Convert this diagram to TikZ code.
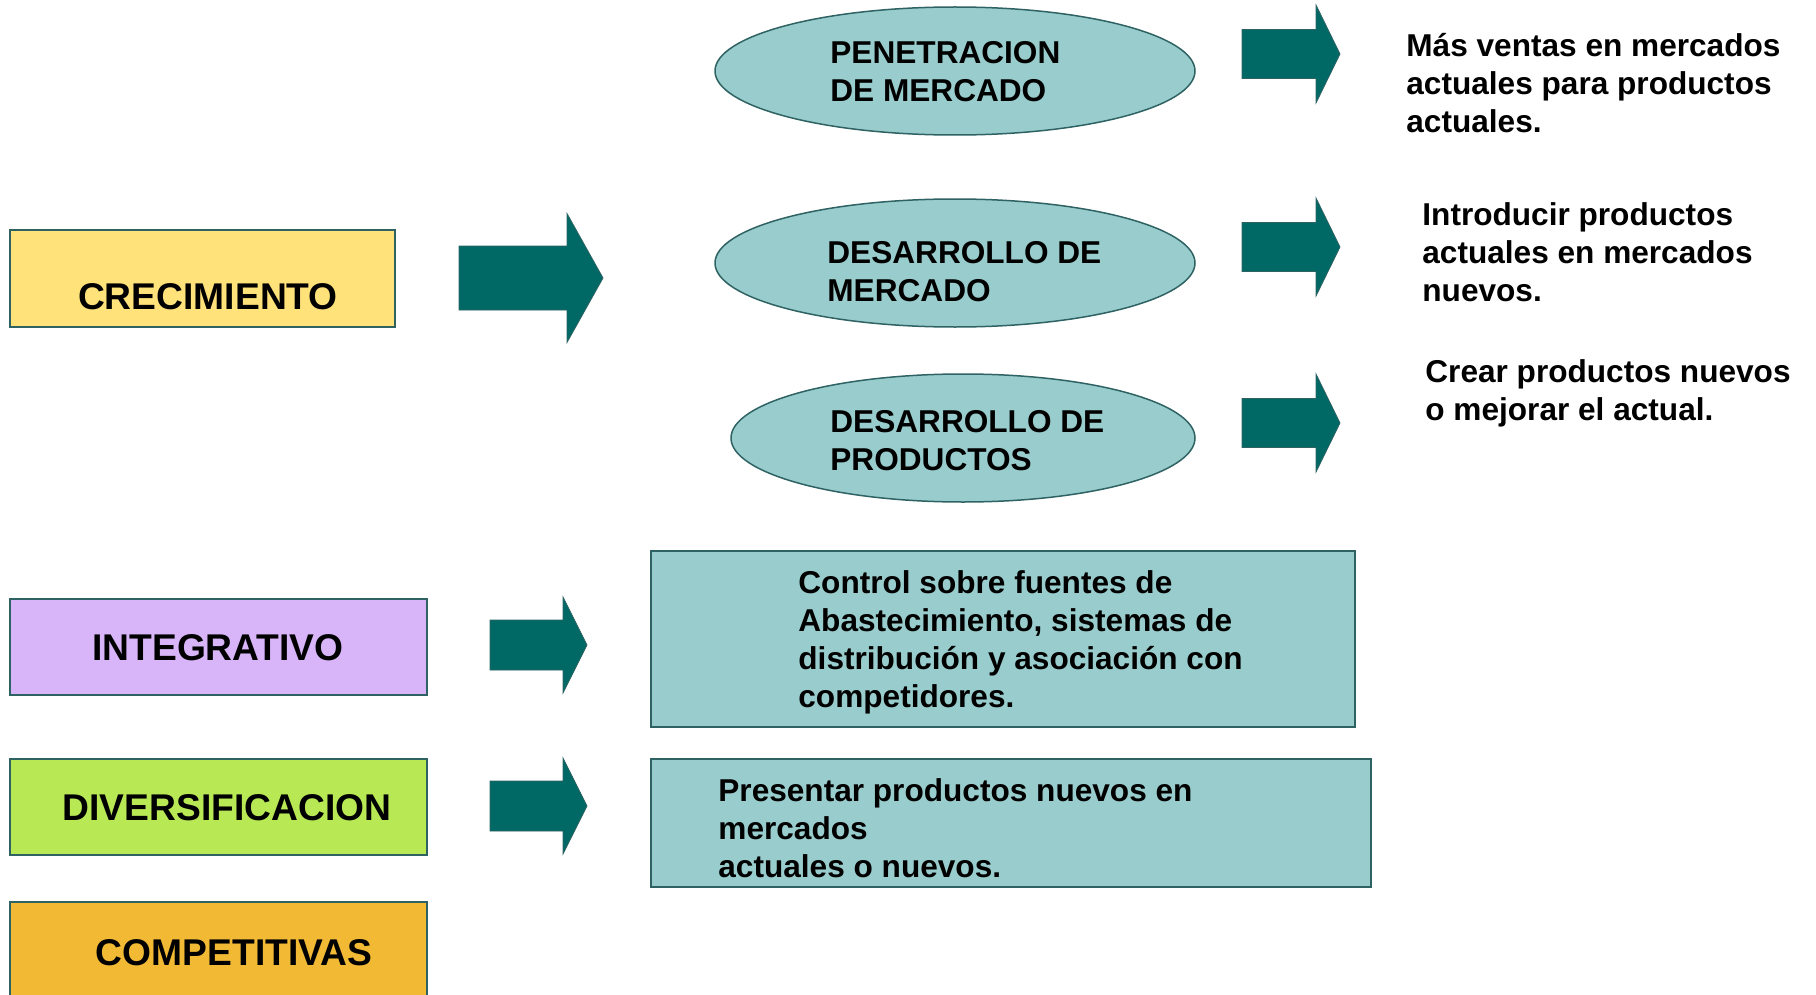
\documentclass[tikz,border=0pt]{standalone}
\usepackage{fontspec}
\setmainfont{Liberation Sans}
\usepackage{tikz}
\usetikzlibrary{shapes.geometric}

\definecolor{tealarrow}{HTML}{006865}
\definecolor{tealedge}{HTML}{2F6363}
\definecolor{tealfill}{HTML}{99CCCC}
\definecolor{crecfill}{HTML}{FFE27A}
\definecolor{integfill}{HTML}{D8B4F8}
\definecolor{diverfill}{HTML}{B9E855}
\definecolor{compfill}{HTML}{F2B935}

\tikzset{
  caja/.style={draw=tealedge, line width=1pt, rectangle, inner sep=0pt},
  ovalo/.style={draw=tealedge, fill=tealfill, line width=0.75pt, ellipse, inner sep=0pt,
    minimum width=240pt, minimum height=64pt},
  rotulo/.style={font=\bfseries\fontsize{18.6}{22}\selectfont, inner sep=0pt},
  texto/.style={font=\bfseries\fontsize{15.8}{19}\selectfont, align=left, inner sep=0pt, anchor=west},
  flechafill/.style={fill=tealarrow, draw=tealedge, line width=0.4pt}
}
% block arrow: tail x, head base x, tip x, centre y, body half, head half
\newcommand{\flecha}[6]{%
  \path[flechafill] (#1,#4-#5) -- (#2,#4-#5) -- (#2,#4-#6) -- (#3,#4)
    -- (#2,#4+#6) -- (#2,#4+#5) -- (#1,#4+#5) -- cycle;}

\begin{document}
\begin{tikzpicture}[x=0.5pt,y=-0.5pt]
  \useasboundingbox (0,0) rectangle (1816,995);

  % left boxes
  \node[caja, fill=crecfill, minimum width=192.5pt, minimum height=48.5pt] (crec) at (202.5,278.5) {};
  \node[rotulo] (crectxt) at (208,297) {CRECIMIENTO};
  \node[caja, fill=integfill, minimum width=208.5pt, minimum height=48pt] (integ) at (218.5,647) {};
  \node[rotulo] (integtxt) at (218,648) {INTEGRATIVO};
  \node[caja, fill=diverfill, minimum width=208.5pt, minimum height=48pt] (diver) at (218.5,807) {};
  \node[rotulo] (divertxt) at (227,808) {DIVERSIFICACION};
  \node[caja, fill=compfill, minimum width=208.5pt, minimum height=56pt] (comp) at (218.5,958) {};
  \node[rotulo] (comptxt) at (234,953) {COMPETITIVAS};

  % arrows
  \flecha{459}{567}{603}{278}{32}{64.5}
  \flecha{1242}{1316}{1340}{54}{24.5}{49}
  \flecha{1242}{1316}{1340}{247}{24.5}{49}
  \flecha{1242}{1316}{1340}{423}{24.5}{49}
  \flecha{490}{563}{587}{645}{25}{48}
  \flecha{490}{563}{587}{806}{25}{48}

  % ellipses
  \node[ovalo] (pen) at (955,71) {};
  \node[texto] (pentxt) at (830,72) {PENETRACION\\DE MERCADO};
  \node[ovalo] (desmer) at (955,263) {};
  \node[texto] (desmertxt) at (827,271.5) {DESARROLLO DE\\MERCADO};
  \node[ovalo, minimum width=232pt] (desprod) at (963,438) {};
  \node[texto] (desprodtxt) at (830,440.5) {DESARROLLO DE\\PRODUCTOS};

  % right texts
  \node[texto] (t1) at (1406,83) {Más ventas en mercados\\actuales para productos\\actuales.};
  \node[texto] (t2) at (1422,252) {Introducir productos\\actuales en mercados\\nuevos.};
  \node[texto] (t3) at (1425,393) {Crear productos nuevos\\o mejorar el actual.};

  % lower boxes
  \node[caja, fill=tealfill, minimum width=352pt, minimum height=88pt] (control) at (1003,639) {};
  \node[texto] (controltxt) at (798,642) {Control sobre fuentes de\\Abastecimiento, sistemas de\\distribución y asociación con\\competidores.};
  \node[caja, fill=tealfill, minimum width=360pt, minimum height=64pt] (present) at (1011,823) {};
  \node[texto] (presenttxt) at (718,828) {Presentar productos nuevos en\\mercados\\actuales o nuevos.};
\end{tikzpicture}
\end{document}
